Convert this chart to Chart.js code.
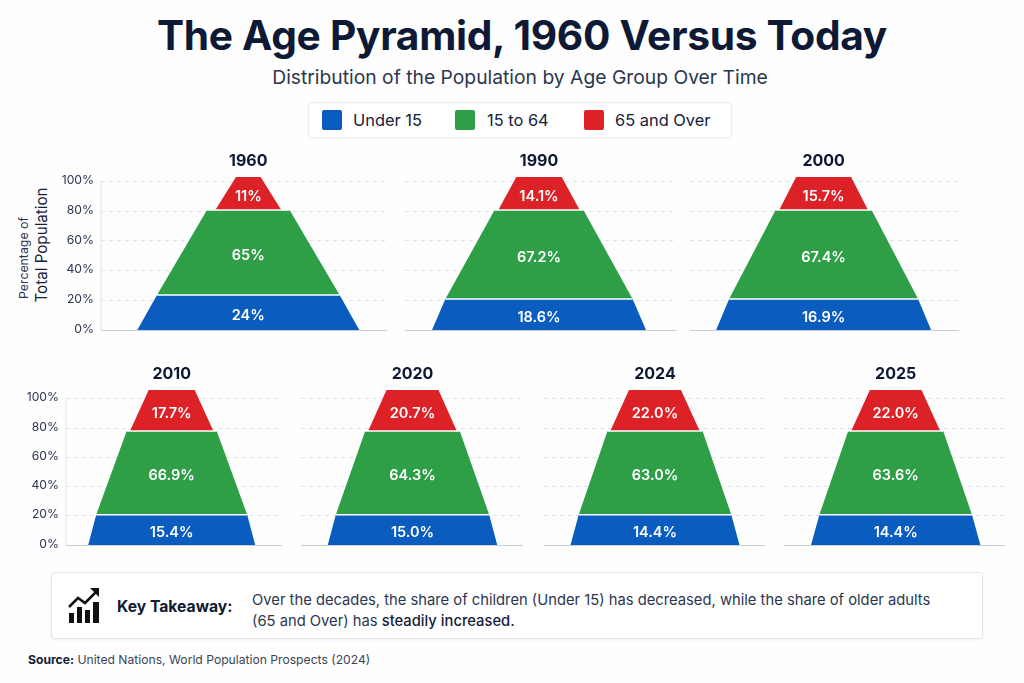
<!DOCTYPE html>
<html>
<head>
<meta charset="utf-8">
<script src="https://cdn.jsdelivr.net/npm/chart.js"></script>
<style>
  html, body { margin: 0; padding: 0; background: #fefefe; }
  body { position: relative; width: 1024px; height: 683px; overflow: hidden; font-family: Inter, "Noto Sans", sans-serif; color: #14203a; }
  .abs { position: absolute; white-space: nowrap; }
  canvas { position: absolute; }
  #title { left: 10px; width: 1024px; top: 11px; text-align: center; font-size: 40.7px; font-weight: 700; color: #0e1a35; letter-spacing: -0.3px; }
  #subtitle { left: 8px; width: 1024px; top: 65px; text-align: center; font-size: 19.3px; color: #2b3650; }
  #legend { left: 308px; top: 102px; width: 424px; height: 36px; border: 1px solid #e9ebee; border-radius: 4px; box-sizing: border-box; background: #fff; box-shadow: 0 1px 2px rgba(0,0,0,.04); }
  .sw { position: absolute; top: 110px; width: 20px; height: 20px; border-radius: 2px; }
  .lg { top: 110px; font-size: 16.4px; color: #14203a; }
  #ylab1 { font-size: 12.3px; color: #2b3650; left: 23px; top: 258px; transform: translate(-50%,-50%) rotate(-90deg); }
  #ylab2 { font-size: 15.2px; color: #14203a; left: 41px; top: 245px; transform: translate(-50%,-50%) rotate(-90deg); }
  #box { left: 51px; top: 572px; width: 932px; height: 67px; box-sizing: border-box; background: #fff; border: 1px solid #e3e5e8; border-radius: 4px; box-shadow: 0 1px 3px rgba(0,0,0,.06); }
  #key { left: 117px; top: 597px; font-size: 15.7px; font-weight: 700; color: #101a30; }
  #line1 { left: 252px; top: 591px; font-size: 14.75px; color: #2b3650; }
  #line2 { left: 252px; top: 612px; font-size: 14.75px; color: #2b3650; }
  #line2 b { font-weight: 500; color: #14203a; }
  #source { left: 28px; top: 652px; font-size: 12.15px; color: #3a4559; }
  #source b { font-weight: 700; color: #14203a; }
</style>
</head>
<body>
<div class="abs" id="title">The Age Pyramid, 1960 Versus Today</div>
<div class="abs" id="subtitle">Distribution of the Population by Age Group Over Time</div>

<div class="abs" id="legend"></div>
<div class="sw" style="left:322px;background:#0b5cbf"></div><div class="abs lg" style="left:353px">Under 15</div>
<div class="sw" style="left:455px;background:#2e9e47"></div><div class="abs lg" style="left:487px">15 to 64</div>
<div class="sw" style="left:584px;background:#dc2127"></div><div class="abs lg" style="left:615px">65 and Over</div>

<div class="abs" id="ylab1">Percentage of</div>
<div class="abs" id="ylab2">Total Population</div>

<div class="abs" id="box"></div>
<svg class="abs" style="left:66px;top:586px" width="36" height="40" viewBox="0 0 36 40">
  <rect x="3" y="27" width="5" height="10" fill="#111"/>
  <rect x="11" y="21" width="5" height="16" fill="#111"/>
  <rect x="19" y="24" width="5" height="13" fill="#111"/>
  <rect x="27" y="16" width="6" height="21" fill="#111"/>
  <polyline points="3,21 12,12 19,17 31,5" fill="none" stroke="#111" stroke-width="2.5"/>
  <polygon points="24,2 33,2 33,11" fill="#111"/>
</svg>
<div class="abs" id="key">Key Takeaway:</div>
<div class="abs" id="line1">Over the decades, the share of children (Under 15) has decreased, while the share of older adults</div>
<div class="abs" id="line2">(65 and Over) has <b>steadily increased.</b></div>
<div class="abs" id="source"><b>Source:</b> United Nations, World Population Prospects (2024)</div>

<script>
// values shown on each pyramid
const years = ['1960', '1990', '2000', '2010', '2020', '2024', '2025'];
const under15 = ['24%', '18.6%', '16.9%', '15.4%', '15.0%', '14.4%', '14.4%'];
const age15to64 = ['65%', '67.2%', '67.4%', '66.9%', '64.3%', '63.0%', '63.6%'];
const age65over = ['11%', '14.1%', '15.7%', '17.7%', '20.7%', '22.0%', '22.0%'];
const yTicks = [0, 20, 40, 60, 80, 100];

// where the bands start and end on the y axis, as drawn
const blueTop = [23.6, 20.9, 20.9, 20.7, 20.7, 20.7, 20.7];
const greenTop = [80.8, 80.8, 80.8, 77.9, 77.9, 77.9, 77.9];
const pyramidTop = [103, 103, 103, 106, 106, 106, 106];

// half widths of the trapezoids on the x axis, as drawn
const baseWidth = [111, 107, 107.5, 83.5, 84.7, 84.5, 84.7];
const blueTopWidth = [91.3, 93.6, 94.5, 75.5, 76.7, 76.3, 76.3];
const greenTopWidth = [41.3, 44.4, 48, 45, 47.3, 47.5, 47.5];
const redBottomWidth = [33, 40.7, 44.4, 41.7, 44.3, 44.7, 44.5];
const redTopWidth = [12.3, 22.7, 27.5, 23, 26, 26, 25.8];

// page layout of the panels
const panels = [
  { left: 101, right: 387, mid: 248.3, top: 177, bottom: 330, axis: true },
  { left: 405, right: 677, mid: 539, top: 177, bottom: 330, axis: false },
  { left: 690, right: 959, mid: 823.6, top: 177, bottom: 330, axis: false },
  { left: 66, right: 282, mid: 171.7, top: 390, bottom: 545, axis: true },
  { left: 301, right: 523, mid: 412.5, top: 390, bottom: 545, axis: false },
  { left: 544, right: 765, mid: 655, top: 390, bottom: 545, axis: false },
  { left: 784, right: 1005, mid: 895.7, top: 390, bottom: 545, axis: false }
];

const BLUE = '#0b5cbf', GREEN = '#2e9e47', RED = '#dc2127';
const AXIS_W = 60, TOP_M = 30, BOTTOM_M = 20;

const bandLabels = {
  id: 'bandLabels',
  afterDatasetsDraw(chart, args, opts) {
    const { ctx, scales: { x, y } } = chart;
    const cx = x.getPixelForValue(0);
    ctx.save();
    ctx.textAlign = 'center';
    ctx.textBaseline = 'middle';
    ctx.fillStyle = '#fff';
    ctx.font = '600 14.5px Inter';
    opts.bands.forEach(b => {
      const py = (y.getPixelForValue(b.from) + y.getPixelForValue(b.to)) / 2 + 3;
      ctx.fillText(b.text, cx, py);
    });
    ctx.fillStyle = '#0e1a35';
    ctx.font = '700 16px Inter';
    ctx.fillText(opts.year, cx, chart.chartArea.top - 16);
    ctx.restore();
  }
};

function trapezoid(from, to, wBottom, wTop, color) {
  return {
    data: [{ x: -wBottom, y: from }, { x: wBottom, y: from }, { x: wTop, y: to }, { x: -wTop, y: to }],
    showLine: true,
    fill: 'shape',
    backgroundColor: color,
    borderWidth: 0,
    pointRadius: 0,
    tension: 0,
    order: 2
  };
}

function separator(at, w) {
  return {
    data: [{ x: -w, y: at }, { x: w, y: at }],
    showLine: true,
    fill: false,
    borderColor: '#fff',
    borderWidth: 1.5,
    pointRadius: 0,
    order: 1
  };
}

// the left axis line only runs from 0% to 100%
function axisLine(x) {
  return {
    data: [{ x: x, y: 0 }, { x: x, y: 100 }],
    showLine: true,
    fill: false,
    borderColor: '#dfe2e6',
    borderWidth: 1,
    pointRadius: 0,
    clip: false,
    order: 3
  };
}

years.forEach((year, i) => {
  const p = panels[i];
  const canvas = document.createElement('canvas');
  const w = p.right - p.left + AXIS_W, h = p.bottom - p.top + TOP_M + BOTTOM_M;
  canvas.style.left = (p.left - AXIS_W) + 'px';
  canvas.style.top = (p.top - TOP_M) + 'px';
  canvas.style.width = w + 'px';
  canvas.style.height = h + 'px';
  canvas.width = w;
  canvas.height = h;
  document.body.appendChild(canvas);

  const datasets = [
    trapezoid(0, blueTop[i], baseWidth[i], blueTopWidth[i], BLUE),
    trapezoid(blueTop[i], greenTop[i], blueTopWidth[i], greenTopWidth[i], GREEN),
    trapezoid(greenTop[i], pyramidTop[i], redBottomWidth[i], redTopWidth[i], RED),
    separator(blueTop[i], blueTopWidth[i]),
    separator(greenTop[i], greenTopWidth[i])
  ];
  if (p.axis) datasets.push(axisLine(p.left - p.mid));

  new Chart(canvas.getContext('2d'), {
    type: 'scatter',
    data: { datasets },
    options: {
      responsive: false,
      animation: false,
      layout: { padding: { top: TOP_M, right: 0, left: 0, bottom: 0 } },
      plugins: {
        legend: { display: false },
        tooltip: { enabled: false },
        bandLabels: {
          year: year,
          bands: [
            { from: 0, to: blueTop[i], text: under15[i] },
            { from: blueTop[i], to: greenTop[i], text: age15to64[i] },
            { from: greenTop[i], to: pyramidTop[i], text: age65over[i] }
          ]
        }
      },
      scales: {
        x: {
          type: 'linear',
          min: p.left - p.mid,
          max: p.right - p.mid,
          afterFit: s => { s.height = BOTTOM_M; },
          grid: { display: false },
          border: { display: true, color: '#c9ced6', width: 1 },
          ticks: { display: false }
        },
        y: {
          min: 0,
          max: pyramidTop[i],
          afterFit: s => { s.width = AXIS_W; },
          afterBuildTicks: s => { s.ticks = yTicks.map(v => ({ value: v })); },
          grid: { color: '#dfe2e6', drawTicks: false },
          border: { display: false, dash: [4, 4] },
          ticks: {
            display: p.axis,
            padding: 7,
            labelOffset: -1,
            color: '#2b3650',
            font: { family: 'Inter', size: 12.2 },
            callback: v => v + '%'
          }
        }
      }
    },
    plugins: [bandLabels]
  });
});
</script>
</body>
</html>
